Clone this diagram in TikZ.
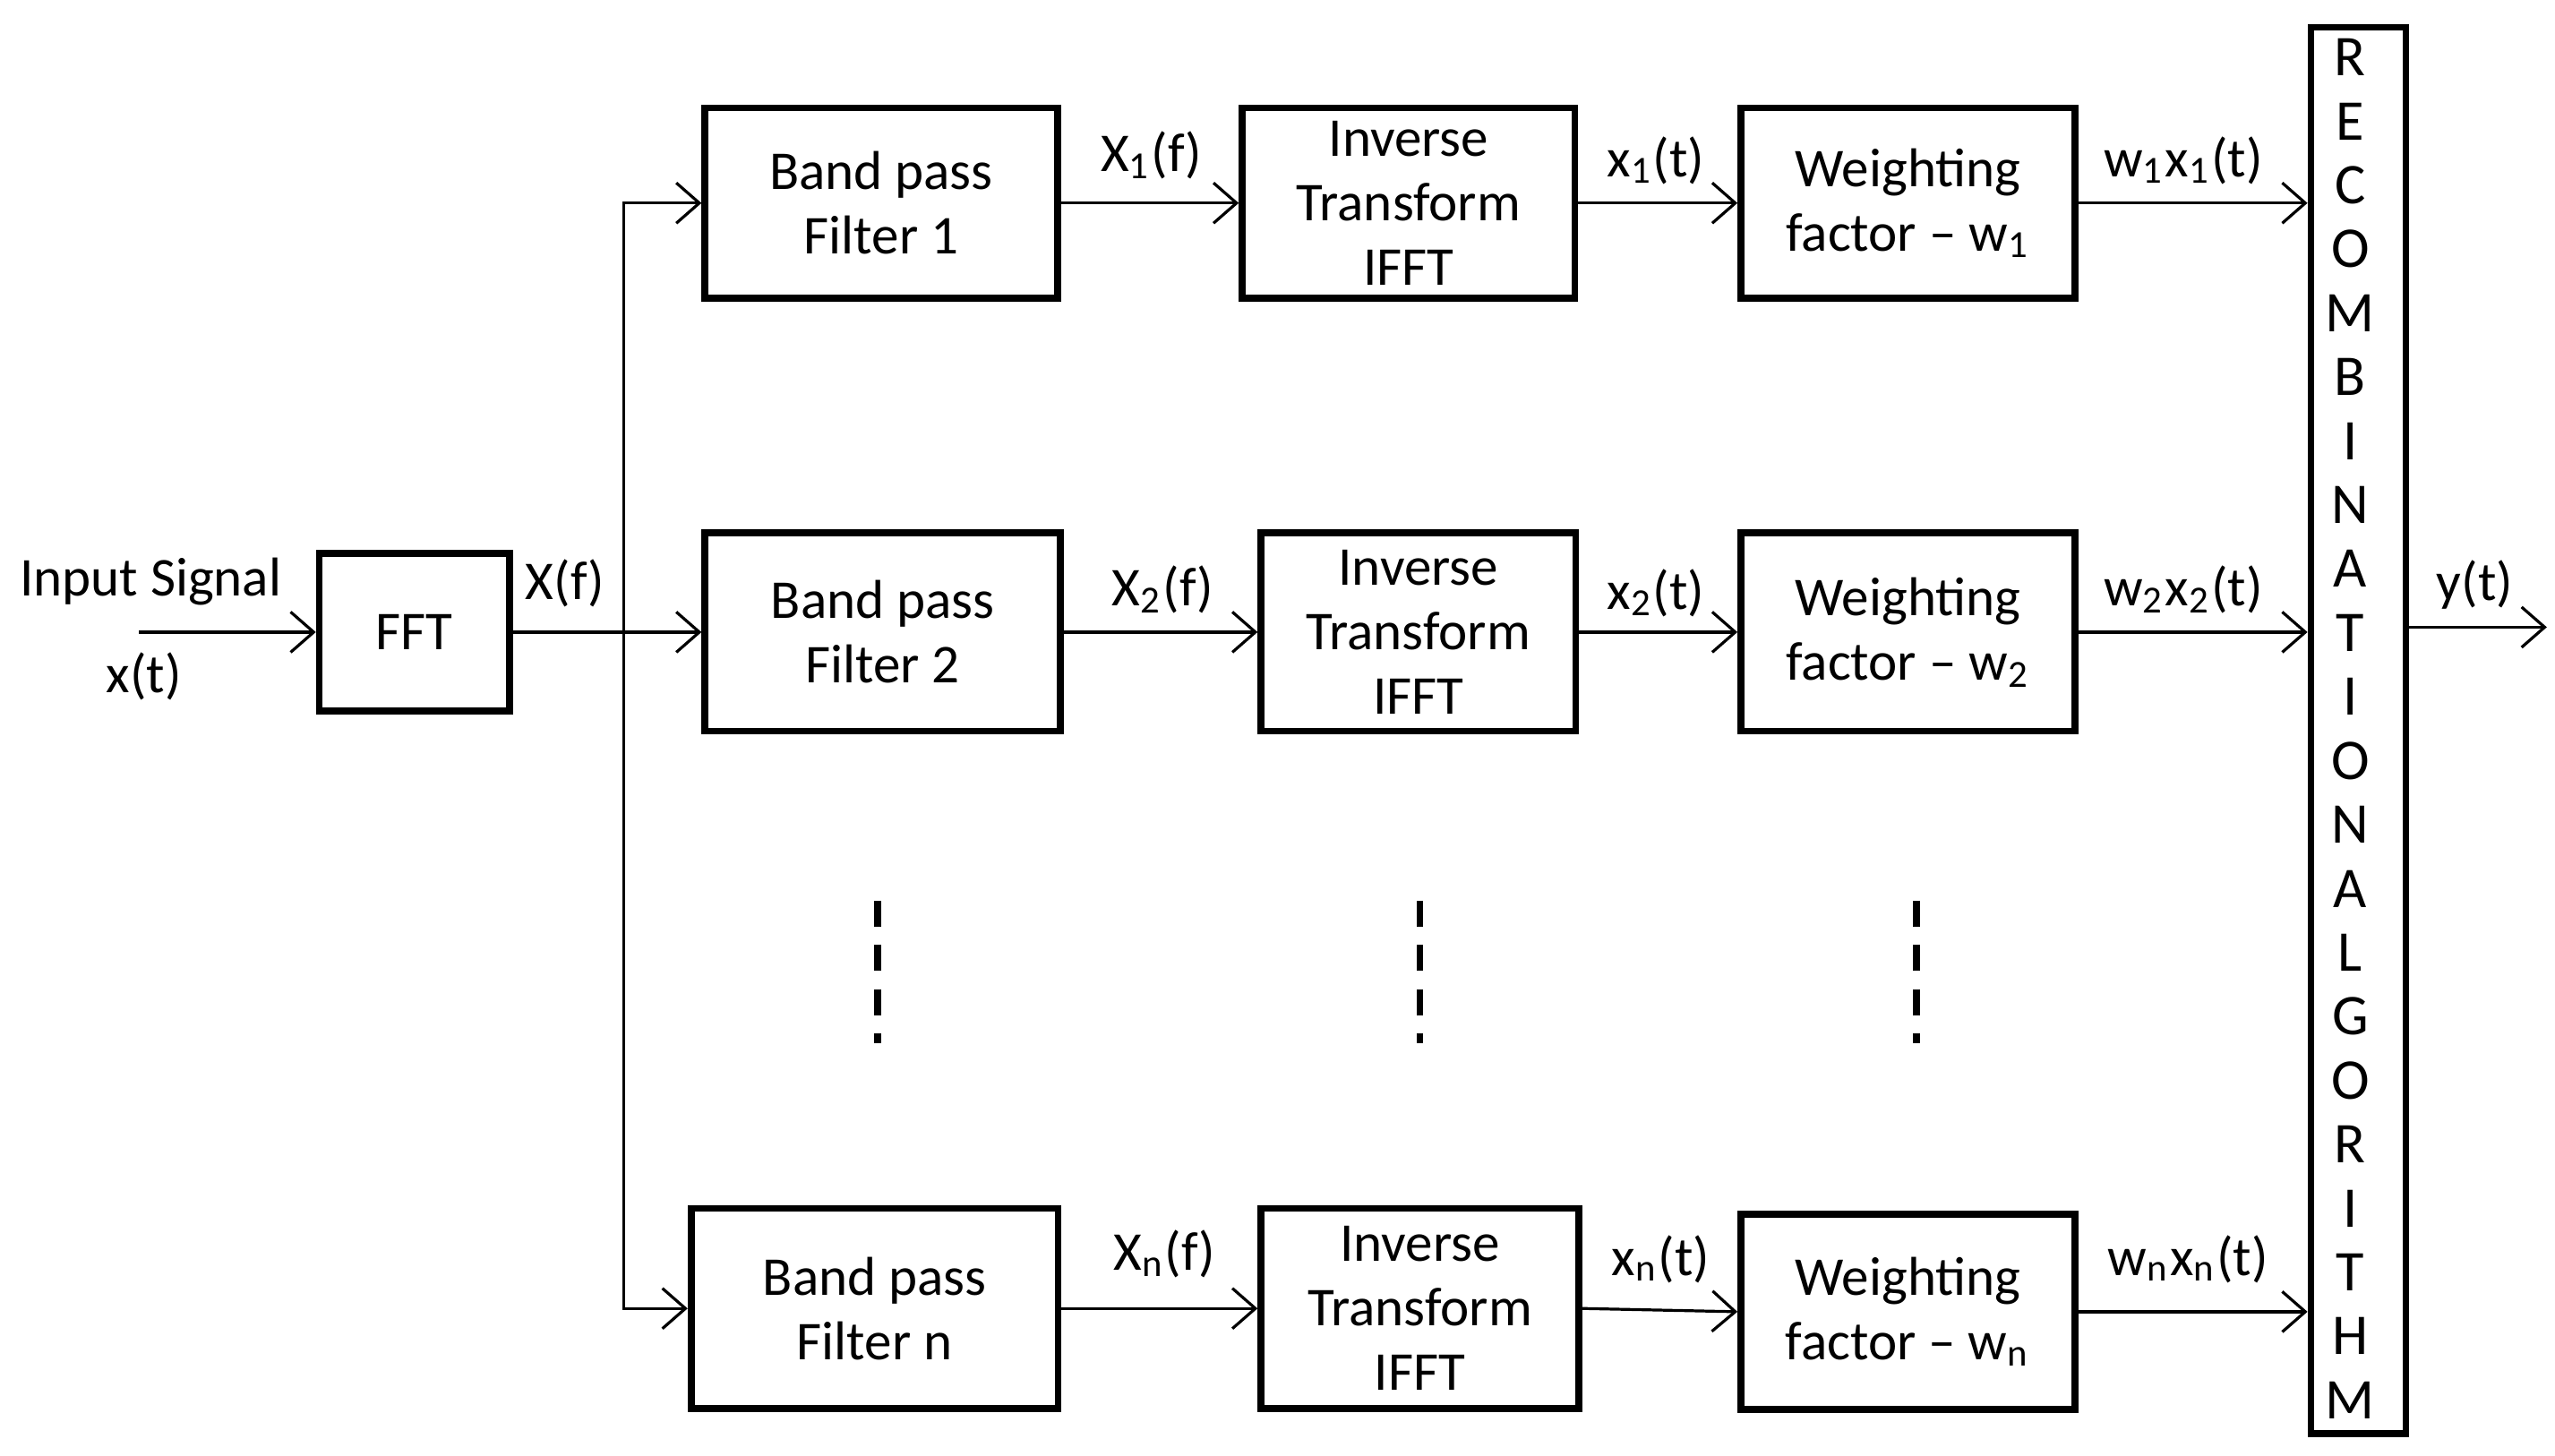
\documentclass[tikz,border=0pt]{standalone}
\usepackage{fontspec}
\setmainfont{Carlito}
\usetikzlibrary{arrows.meta}
\newcommand{\sub}[1]{\textsubscript{#1}}
\begin{document}
\begin{tikzpicture}[x=0.01cm,y=-0.01cm,
    blk/.style={draw,line width=1.2pt,inner sep=0pt,align=center,font=\fontsize{9.5}{11.2}\selectfont},
    sig/.style={-{Straight Barb[length=4pt,width=7pt]},line width=0.5pt},
    lbl/.style={font=\fontsize{9.5}{11}\selectfont}]
    \useasboundingbox (0,0) rectangle (1560,889);
    % Bloecke
    \node[blk,minimum width=1.16cm,minimum height=0.96cm] (fft) at (253,386) {FFT};
    \node[blk,minimum width=2.15cm,minimum height=1.16cm] (bp1) at (538,124) {Band pass\\Filter 1};
    \node[blk,minimum width=2.17cm,minimum height=1.21cm] (bp2) at (539,386) {Band pass\\Filter 2};
    \node[blk,minimum width=2.24cm,minimum height=1.22cm] (bpn) at (534,799) {Band pass\\Filter n};
    \node[blk,minimum width=2.03cm,minimum height=1.16cm] (if1) at (860,124) {Inverse\\Transform\\IFFT};
    \node[blk,minimum width=1.92cm,minimum height=1.21cm] (if2) at (866,386) {Inverse\\Transform\\IFFT};
    \node[blk,minimum width=1.94cm,minimum height=1.22cm] (ifn) at (867,799) {Inverse\\Transform\\IFFT};
    \node[blk,minimum width=2.04cm,minimum height=1.16cm] (wf1) at (1165,124) {Weighting\\factor -- w\sub{1}};
    \node[blk,minimum width=2.04cm,minimum height=1.21cm] (wf2) at (1165,386) {Weighting\\factor -- w\sub{2}};
    \node[blk,minimum width=2.04cm,minimum height=1.19cm] (wfn) at (1165,801) {Weighting\\factor -- w\sub{n}};
    \node[blk,minimum width=0.58cm,minimum height=8.58cm] (rec) at (1440,446) {};
    \foreach \l [count=\i from 0] in {R,E,C,O,M,B,I,N,A,T,I,O,N,A,L,G,O,R,I,T,H,M}
        \node[lbl,font=\fontsize{10}{11}\selectfont] at (1435,35+39.05*\i) {\l};
    % Ein- und Ausgang
    \coordinate (in) at (85,386);
    \coordinate (out) at (1555,383);
    \coordinate (br) at (381,386);
    \draw[sig] (in) -- (fft.west);
    \draw[sig] (fft.east) -- (bp2.west);
    \draw[sig] (br) |- (bp1.west);
    \draw[sig] (br) |- (bpn.west);
    \draw[sig] (rec.east |- out) -- (out);
    % Zweige
    \foreach \a/\b/\c in {bp1/if1/wf1,bp2/if2/wf2,bpn/ifn/wfn} {
        \draw[sig] (\a.east) -- (\b.west);
        \draw[sig] (\b.east) -- (\c.west);
        \draw[sig] (\c.east) -- (\c.east -| rec.west);
    }
    % Punkte
    \foreach \x in {536,867,1170}
        \draw[line width=1.2pt,dash pattern=on 4.5pt off 3.2pt] (\x,550) -- (\x,637);
    % Beschriftung
    \node[lbl] at (92,355) {Input Signal};
    \node[lbl] at (88,413) {x(t)};
    \node[lbl] at (345,356) {X(f)};
    \node[lbl] at (703,95) {X\sub{1}(f)};
    \node[lbl] at (1011,98) {x\sub{1}(t)};
    \node[lbl] at (1333,98) {w\sub{1}x\sub{1}(t)};
    \node[lbl] at (710,360) {X\sub{2}(f)};
    \node[lbl] at (1011,362) {x\sub{2}(t)};
    \node[lbl] at (1333,360) {w\sub{2}x\sub{2}(t)};
    \node[lbl] at (1511,357) {y(t)};
    \node[lbl] at (711,766) {X\sub{n}(f)};
    \node[lbl] at (1014,769) {x\sub{n}(t)};
    \node[lbl] at (1336,769) {w\sub{n}x\sub{n}(t)};
\end{tikzpicture}
\end{document}
